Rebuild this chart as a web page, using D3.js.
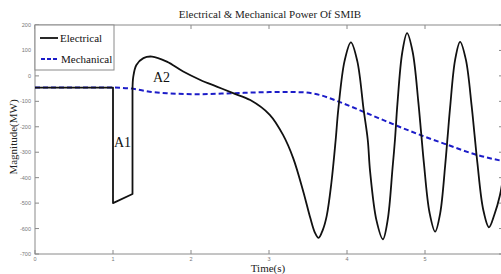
<!DOCTYPE html>
<html>
<head>
<meta charset="utf-8">
<script src="https://cdn.jsdelivr.net/npm/d3@7"></script>
<style>
  body { margin: 0; background: #fff; }
  svg { display: block; }
</style>
</head>
<body>
<svg id="chart" width="501" height="274"></svg>
<script>
// values
var xTicks = [0, 1, 2, 3, 4, 5, 6];
var yTicks = [200, 100, 0, -100, -200, -300, -400, -500, -600, -700];

// electrical power: first part (fault, straight edges), rest (smooth swing)
var elecT = [0, 1.0, 1.0, 1.25, 1.25, 1.26, 1.30, 1.39, 1.50, 1.69, 1.90, 2.12, 2.33, 2.54, 2.76,
  3.01, 3.18, 3.31, 3.44, 3.53, 3.59, 3.635, 3.69, 3.74, 3.80, 3.855, 3.888, 3.969, 4.05,
  4.132, 4.214, 4.266, 4.296, 4.378, 4.46, 4.522, 4.584, 4.615, 4.646, 4.708, 4.77,
  4.842, 4.914, 4.95, 4.986, 5.058, 5.13, 5.194, 5.258, 5.29, 5.322, 5.386, 5.45,
  5.524, 5.598, 5.635, 5.672, 5.746, 5.82, 5.89, 5.96, 6.0];
var elecV = [-46, -46, -500, -464, -55, -3, 43, 70, 76, 56, 17, -16, -42, -68, -95,
  -153, -232, -323, -455, -559, -617, -637, -605, -550, -420, -251, -133, 59, 132,
  58, -135, -251, -375, -568, -642, -565, -362, -251, -112, 91, 168,
  94, -101, -222, -343, -537, -612, -541, -354, -239, -124, 63, 134,
  64, -118, -231, -343, -525, -595, -545, -470, -400];
var elecKnee = 4; // index where the smooth part starts

// mechanical power
var mechT = [0, 1.0, 1.26, 1.47, 1.69, 2.12, 2.54, 2.97, 3.18, 3.40, 3.65, 3.91, 4.25, 4.64, 4.98, 5.28, 5.66, 5.97, 6.0];
var mechV = [-46, -46, -51, -62, -68, -72, -68, -64, -63, -64, -75, -103, -146, -196, -237, -270, -310, -333, -335];

var svg = d3.select("#chart");
var mLeft = 35, mRight = 503, mTop = 25, mBottom = 254;

var x = d3.scaleLinear().domain([0, 6]).range([mLeft, mRight]);
var y = d3.scaleLinear().domain([-700, 200]).range([mBottom, mTop]);

var serif = "'Liberation Serif', 'Times New Roman', serif";
var sans = "'Liberation Sans', Arial, sans-serif";
var axisGrey = "#8a8a8a";

svg.append("rect").attr("width", 501).attr("height", 274).attr("fill", "#fff");

// frame
svg.append("rect")
  .attr("x", mLeft).attr("y", mTop)
  .attr("width", mRight - mLeft).attr("height", mBottom - mTop)
  .attr("fill", "none").attr("stroke", axisGrey).attr("stroke-width", 1);

// ticks, inward on all sides (matlab box)
var tk = 4;
xTicks.forEach(function (t) {
  svg.append("line").attr("x1", x(t)).attr("x2", x(t)).attr("y1", mBottom).attr("y2", mBottom - tk)
    .attr("stroke", axisGrey);
  svg.append("line").attr("x1", x(t)).attr("x2", x(t)).attr("y1", mTop).attr("y2", mTop + tk)
    .attr("stroke", axisGrey);
  if (t < 6) {
    svg.append("text").attr("x", x(t)).attr("y", mBottom + 6.5)
      .attr("text-anchor", "middle").attr("font-family", sans)
      .attr("font-size", "5.5px").attr("fill", "#777").text(t);
  }
});
yTicks.forEach(function (v) {
  svg.append("line").attr("x1", mLeft).attr("x2", mLeft + tk).attr("y1", y(v)).attr("y2", y(v))
    .attr("stroke", axisGrey);
  svg.append("line").attr("x1", mRight).attr("x2", mRight - tk).attr("y1", y(v)).attr("y2", y(v))
    .attr("stroke", axisGrey);
  svg.append("text").attr("x", mLeft - 4).attr("y", y(v) + 2)
    .attr("text-anchor", "end").attr("font-family", sans)
    .attr("font-size", "5.5px").attr("fill", "#777").text(v);
});

svg.append("clipPath").attr("id", "clip").append("rect")
  .attr("x", mLeft).attr("y", mTop).attr("width", mRight - mLeft).attr("height", mBottom - mTop);
var plot = svg.append("g").attr("clip-path", "url(#clip)");

var elec = elecT.map(function (t, i) { return [t, elecV[i]]; });
var mech = mechT.map(function (t, i) { return [t, mechV[i]]; });

var lineStraight = d3.line().x(function (d) { return x(d[0]); }).y(function (d) { return y(d[1]); });
var lineSmooth = d3.line().x(function (d) { return x(d[0]); }).y(function (d) { return y(d[1]); })
  .curve(d3.curveCatmullRom.alpha(0.5));
var lineMech = d3.line().x(function (d) { return x(d[0]); }).y(function (d) { return y(d[1]); })
  .curve(d3.curveMonotoneX);

plot.append("path").attr("d", lineMech(mech))
  .attr("fill", "none").attr("stroke", "#1c1cc8").attr("stroke-width", 2)
  .attr("stroke-dasharray", "5,3");

plot.append("path").attr("d", lineStraight(elec.slice(0, elecKnee + 1)))
  .attr("fill", "none").attr("stroke", "#111").attr("stroke-width", 1.8).attr("stroke-linejoin", "round");
plot.append("path").attr("d", lineSmooth(elec.slice(elecKnee)))
  .attr("fill", "none").attr("stroke", "#111").attr("stroke-width", 1.8).attr("stroke-linejoin", "round");

// area labels
svg.append("text").attr("x", 114).attr("y", 147).attr("font-family", serif)
  .attr("font-size", "14px").attr("fill", "#111").text("A1");
svg.append("text").attr("x", 153).attr("y", 82).attr("font-family", serif)
  .attr("font-size", "14px").attr("fill", "#111").text("A2");

// legend
var lg = svg.append("g");
lg.append("rect").attr("x", mLeft).attr("y", mTop).attr("width", 79).attr("height", 45)
  .attr("fill", "#fff").attr("stroke", axisGrey);
lg.append("line").attr("x1", 40).attr("x2", 58).attr("y1", 38).attr("y2", 38)
  .attr("stroke", "#111").attr("stroke-width", 1.8);
lg.append("text").attr("x", 60).attr("y", 42).attr("font-family", serif)
  .attr("font-size", "11px").attr("fill", "#111").text("Electrical");
lg.append("line").attr("x1", 41).attr("x2", 59).attr("y1", 59).attr("y2", 59)
  .attr("stroke", "#1c1cc8").attr("stroke-width", 2).attr("stroke-dasharray", "4,2");
lg.append("text").attr("x", 61).attr("y", 63).attr("font-family", serif)
  .attr("font-size", "11px").attr("fill", "#111").text("Mechanical");

// title and axis labels
svg.append("text").attr("x", 270).attr("y", 18).attr("text-anchor", "middle")
  .attr("font-family", serif).attr("font-size", "11px").attr("fill", "#222")
  .text("Electrical & Mechanical Power Of SMIB");
svg.append("text").attr("x", 268).attr("y", 272).attr("text-anchor", "middle")
  .attr("font-family", serif).attr("font-size", "11px").attr("fill", "#222")
  .text("Time(s)");
svg.append("text").attr("transform", "translate(17,137) rotate(-90)")
  .attr("text-anchor", "middle").attr("font-family", serif).attr("font-size", "11px")
  .attr("fill", "#222").text("Magnitude(MW)");
</script>
</body>
</html>
